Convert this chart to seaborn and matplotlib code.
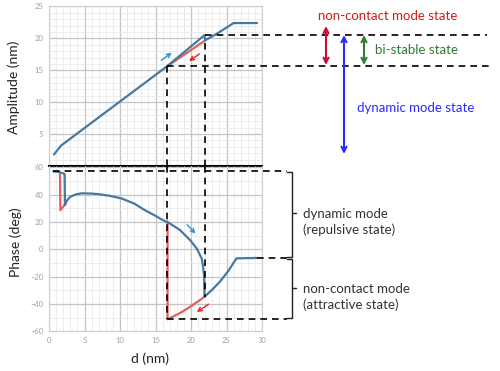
import matplotlib
matplotlib.use("Agg")
import matplotlib.pyplot as plt
import seaborn as sns
from matplotlib.ticker import MultipleLocator

# approach (blue) and retract (red) branches
amp_app_d = [0.7, 1.7, 16.6, 21.9, 22.0, 23.6, 26.0, 29.3]
amp_app = [1.8, 3.2, 15.6, 20.5, 19.7, 20.7, 22.4, 22.4]
amp_ret_d = [16.6, 21.9]
amp_ret = [15.6, 19.6]

ph_app_d = [0.6, 1.2, 2.0, 2.2, 2.25, 2.5, 3.0, 3.8, 4.6, 6.0, 7.0, 8.5, 10.2, 12.0,
            13.5, 15.0, 16.0, 17.0, 18.45, 19.86, 20.8, 21.5, 21.7, 21.85, 21.9,
            23.0, 24.1, 25.3, 26.4, 29.3]
ph_app = [57.0, 56.8, 55.6, 55.0, 32.4, 35.5, 38.5, 40.2, 41.0, 40.8, 40.4, 39.2, 37.3, 33.5,
          28.7, 24.5, 21.5, 19.0, 14.1, 6.8, 0.7, -6.6, -12.7, -20.0, -34.7,
          -29.5, -23.5, -15.5, -6.6, -6.3]
ph_ret_d = [21.9, 21.3, 19.9, 18.5, 16.7, 16.7]
ph_ret = [-34.7, -37.0, -42.0, -46.5, -51.2, 20.5]
ph_ret2_d = [2.4, 1.9, 1.6, 1.55]
ph_ret2 = [34.0, 30.5, 28.7, 55.0]

d_ticks = [0, 5, 10, 15, 20, 25, 30]
amp_ticks = [5, 10, 15, 20, 25]
ph_ticks = [-60, -40, -20, 0, 20, 40, 60]

# levels marked with dashed lines
amp_hi, amp_lo = 20.6, 15.7
d_jump_ret, d_jump_app = 16.6, 22.0
ph_top, ph_free, ph_min = 57.3, -6.3, -51.2

BLUE = "#4579a3"
RED = "#e0605e"

sns.set_style("whitegrid")
plt.rcParams["font.family"] = ["Lato", "DejaVu Sans"]

fig = plt.figure(figsize=(5.0, 3.71), dpi=100)
ax_a = fig.add_axes([0.098, 0.5526, 0.426, 0.43])
ax_p = fig.add_axes([0.098, 0.107, 0.426, 0.4456])
ax_p.patch.set_alpha(0)

for ax in (ax_a, ax_p):
    ax.set_xlim(0, 30)
    ax.xaxis.set_major_locator(MultipleLocator(5))
    ax.xaxis.set_minor_locator(MultipleLocator(1))
    ax.grid(which="major", color="#c4c4c4", lw=0.9)
    ax.grid(which="minor", color="#e6e6e6", lw=0.5)
    ax.tick_params(which="both", length=0, labelsize=5.5, labelcolor="#a0a0a0", pad=4)
    for s in ax.spines.values():
        s.set_color("#cfcfcf")
        s.set_linewidth(0.8)

ax_a.set_ylim(0, 25)
ax_a.set_yticks(amp_ticks)
ax_a.yaxis.set_minor_locator(MultipleLocator(1))
ax_a.set_xticklabels([])
ax_a.spines["bottom"].set_color("black")
ax_a.spines["bottom"].set_linewidth(1.5)
ax_a.spines["bottom"].set_zorder(5)

ax_p.set_ylim(-60, 61)
ax_p.set_yticks(ph_ticks)
ax_p.yaxis.set_minor_locator(MultipleLocator(10))
ax_p.set_xticks(d_ticks)
ax_p.spines["top"].set_visible(False)

# curves
lw = 1.6
sns.lineplot(x=amp_ret_d, y=amp_ret, color=RED, lw=lw, sort=False, estimator=None, ax=ax_a)
sns.lineplot(x=amp_app_d, y=amp_app, color=BLUE, lw=lw, sort=False, estimator=None, ax=ax_a)
sns.lineplot(x=ph_ret_d, y=ph_ret, color=RED, lw=lw, sort=False, estimator=None, ax=ax_p)
sns.lineplot(x=ph_ret2_d, y=ph_ret2, color=RED, lw=lw, sort=False, estimator=None, ax=ax_p)
sns.lineplot(x=ph_app_d, y=ph_app, color=BLUE, lw=lw, sort=False, estimator=None, ax=ax_p)
for ax in (ax_a, ax_p):
    ax.set_xlabel("")
    ax.set_ylabel("")

# small direction arrows
arr = dict(arrowstyle="->", lw=1.0, mutation_scale=7)
ax_a.annotate("", xy=(17.6, 18.0), xytext=(15.5, 16.3), arrowprops=dict(color="#2f8fdc", **arr))
ax_a.annotate("", xy=(19.4, 16.2), xytext=(21.5, 17.8), arrowprops=dict(color="#e02020", **arr))
ax_p.annotate("", xy=(20.9, 10.0), xytext=(19.2, 19.5), arrowprops=dict(color="#2f8fdc", **arr))
ax_p.annotate("", xy=(20.5, -47.0), xytext=(22.8, -39.0), arrowprops=dict(color="#e02020", **arr))

# dashed guide lines
dash = dict(color="black", lw=1.2, ls=(0, (4, 3)), clip_on=False, zorder=6)
ax_a.plot([d_jump_app, 61.7], [amp_hi, amp_hi], **dash)
ax_a.plot([d_jump_ret, 62.5], [amp_lo, amp_lo], **dash)
ax_a.plot([d_jump_ret, d_jump_ret], [amp_lo, 0], **dash)
ax_a.plot([d_jump_app, d_jump_app], [19.3, 0], **dash)
ax_p.plot([d_jump_ret, d_jump_ret], [61, ph_min], **dash)
ax_p.plot([d_jump_app, d_jump_app], [61, -34.7], **dash)
ax_p.plot([0.5, 33.5], [ph_top, ph_top], **dash)
ax_p.plot([29.3, 33.5], [ph_free, ph_free], **dash)
ax_p.plot([d_jump_ret, 33.5], [ph_min, ph_min], **dash)

# axis titles
fig.text(0.028, 0.765, "Amplitude (nm)", rotation=90, ha="center", va="center", fontsize=10, color="#222222")
fig.text(0.032, 0.348, "Phase (deg)", rotation=90, ha="center", va="center", fontsize=10, color="#222222")
fig.text(0.30, 0.032, "d (nm)", ha="center", va="center", fontsize=10, color="#222222")

# right-hand annotations in pixel coordinates
ov = fig.add_axes([0, 0, 1, 1])
ov.set_xlim(0, 500)
ov.set_ylim(371, 0)
ov.axis("off")
ov.patch.set_alpha(0)

dbl = dict(arrowstyle="<->", lw=1.5, mutation_scale=9, shrinkA=0, shrinkB=0)
ov.annotate("", xy=(326, 26), xytext=(326, 65), arrowprops=dict(color="#c8102e", **dbl))
ov.annotate("", xy=(344, 35), xytext=(344, 154), arrowprops=dict(color="#2b2bff", **dbl))
ov.annotate("", xy=(364, 35), xytext=(364, 65), arrowprops=dict(color="#2e7d32", **dbl))
ov.text(388, 16, "non-contact mode state", color="#d01c1c", fontsize=9.5, ha="center", va="center")
ov.text(375, 50, "bi-stable state", color="#2e7d32", fontsize=9.5, ha="left", va="center")
ov.text(357, 108, "dynamic mode state", color="#2b2bff", fontsize=9.5, ha="left", va="center")

br = dict(color="#222222", lw=1.0)
ov.plot([287, 292, 292, 287], [172, 172, 257, 257], **br)
ov.plot([292, 296], [213, 213], **br)
ov.plot([287, 292, 292, 287], [259, 259, 318, 318], **br)
ov.plot([292, 296], [288, 288], **br)
ov.text(303, 222, "dynamic mode\n(repulsive state)", color="#333333", fontsize=9.5,
        ha="left", va="center", linespacing=1.3)
ov.text(303, 297, "non-contact mode\n(attractive state)", color="#333333", fontsize=9.5,
        ha="left", va="center", linespacing=1.3)

fig.savefig("out.png", dpi=100)
